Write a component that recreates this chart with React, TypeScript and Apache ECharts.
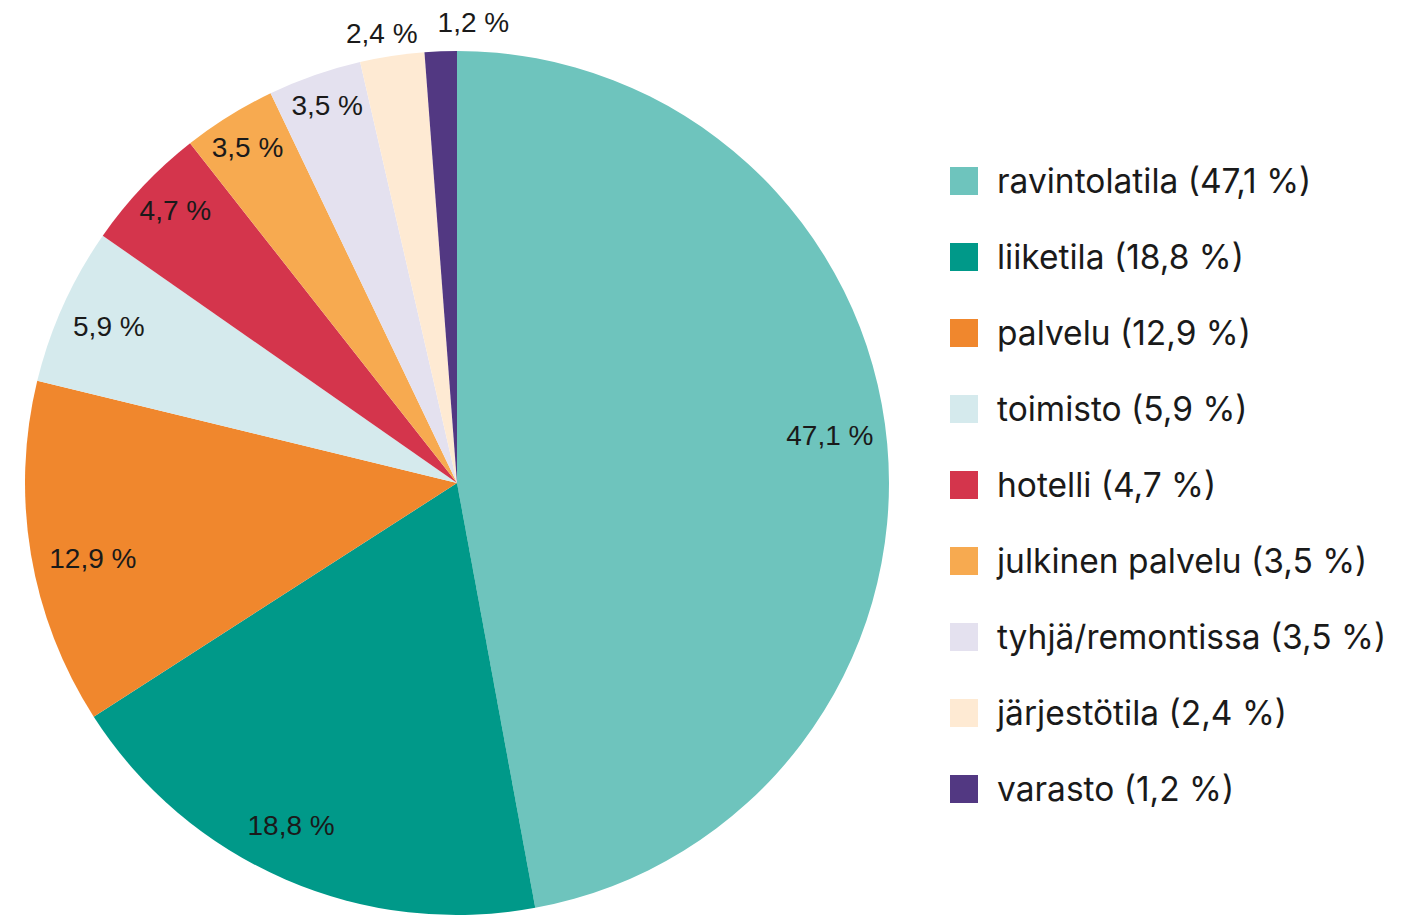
import React, { useEffect, useRef } from "react";
import * as echarts from "echarts";

const categories = [
  "ravintolatila",
  "liiketila",
  "palvelu",
  "toimisto",
  "hotelli",
  "julkinen palvelu",
  "tyhjä/remontissa",
  "järjestötila",
  "varasto",
];
const values = [47.1, 18.8, 12.9, 5.9, 4.7, 3.5, 3.5, 2.4, 1.2];
const colors = [
  "#6ec4bd",
  "#009989",
  "#f0872d",
  "#d5eaed",
  "#d4354c",
  "#f7aa50",
  "#e4e1ef",
  "#feead3",
  "#523882",
];

const fmt = (v: number) => v.toFixed(1).replace(".", ",") + " %";

// per-slice label nudges (style only), relative to the ring-centred position
const labelOffsets: [number, number][] = [
  [-13, -12],
  [-12, -13],
  [18, 11],
  [5, 3],
  [0, -6],
  [-5, -6],
  [-2, -12],
  [-17, -66],
  [31, -73],
];

export default function App() {
  const ref = useRef<HTMLDivElement>(null);
  useEffect(() => {
    document.body.style.margin = "0";
    const chart = echarts.init(ref.current!, null, { renderer: "svg" });
    const R = 432;
    const center = [457, 483];
    chart.setOption({
      animation: false,
      backgroundColor: "#ffffff",
      legend: {
        orient: "vertical",
        left: 950,
        top: 164,
        padding: 0,
        itemWidth: 28,
        itemHeight: 28,
        itemGap: 42,
        icon: "rect",
        data: categories,
        formatter: (name: string) => {
          const i = categories.indexOf(name);
          return `${name} (${fmt(values[i])})`;
        },
        textStyle: {
          fontFamily: "Inter",
          fontSize: 33.5,
          color: "#1a1a1a",
          lineHeight: 30,
          padding: [0, 0, 0, 14],
        },
      },
      series: [
        {
          type: "pie",
          center,
          radius: [0, R],
          startAngle: 90,
          clockwise: true,
          label: { show: false },
          labelLine: { show: false },
          silent: true,
          data: categories.map((n, i) => ({
            name: n,
            value: values[i],
            itemStyle: { color: colors[i] },
          })),
        },
        {
          type: "pie",
          center,
          radius: [R * 0.78, R],
          startAngle: 90,
          clockwise: true,
          silent: true,
          labelLine: { show: false },
          label: {
            show: true,
            position: "inside",
            fontFamily: "Liberation Sans",
            fontSize: 28,
            color: "#1a1a1a",
            formatter: (p: any) => fmt(p.value),
          },
          data: categories.map((n, i) => ({
            name: n + "_lbl",
            value: values[i],
            itemStyle: { color: "rgba(0,0,0,0)" },
            label: { offset: labelOffsets[i] },
          })),
        },
      ],
    });
    return () => chart.dispose();
  }, []);
  return <div ref={ref} style={{ width: 1409, height: 915 }} />;
}
